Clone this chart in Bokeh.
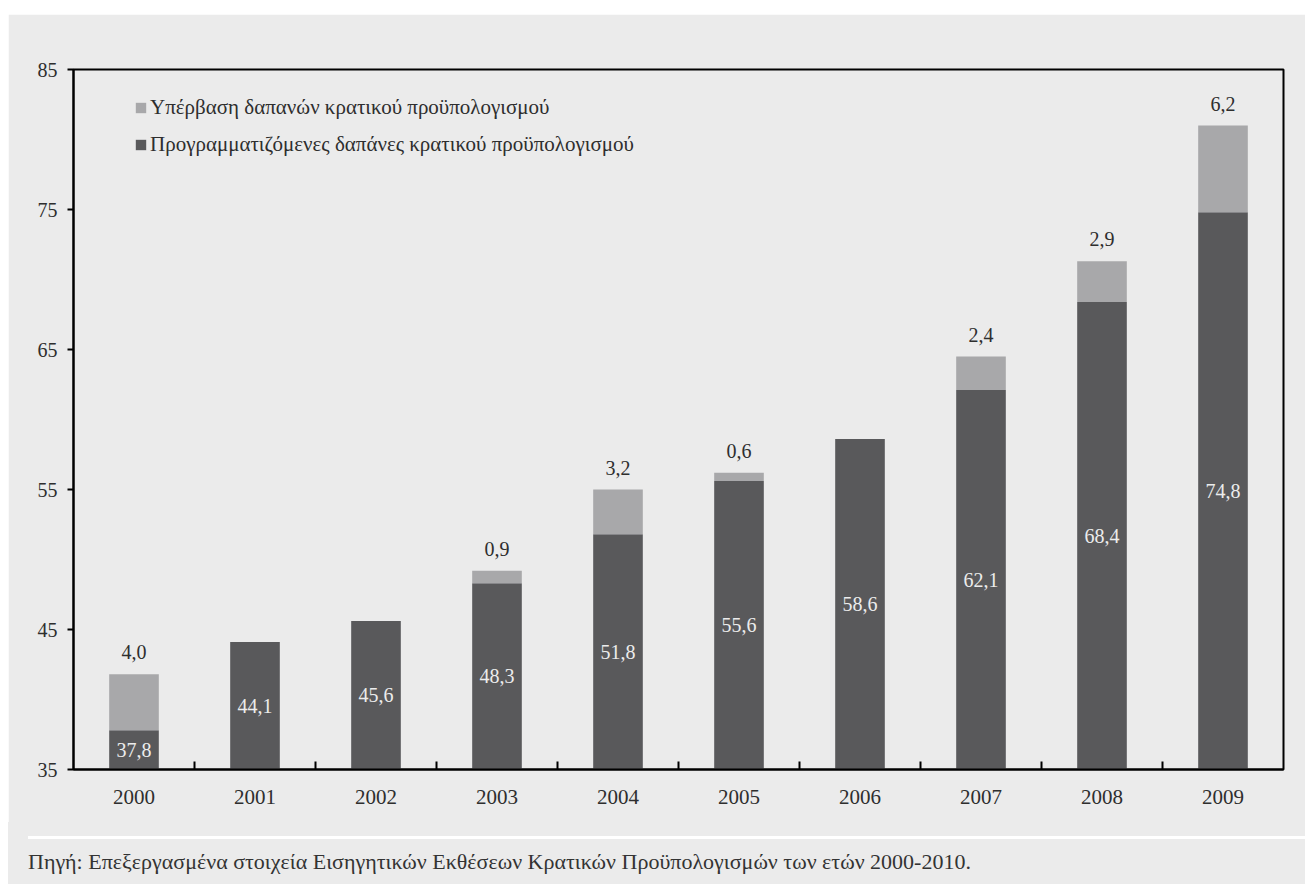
from bokeh.plotting import figure
from bokeh.layouts import column
from bokeh.models import (Range1d, FixedTicker, ColumnDataSource, LabelSet,
                          Legend, LegendItem, Div)
from bokeh.embed import file_html
from bokeh.resources import INLINE

# ---- data ----
years = ["2000", "2001", "2002", "2003", "2004", "2005", "2006", "2007", "2008", "2009"]
planned = [37.8, 44.1, 45.6, 48.3, 51.8, 55.6, 58.6, 62.1, 68.4, 74.8]
overrun = [4.0, 0.0, 0.0, 0.9, 3.2, 0.6, 0.0, 2.4, 2.9, 6.2]
y_ticks = [35, 45, 55, 65, 75, 85]
legend_over = "Υπέρβαση δαπανών κρατικού προϋπολογισμού"
legend_plan = "Προγραμματιζόμενες δαπάνες κρατικού προϋπολογισμού"
source_text = "Πηγή: Επεξεργασμένα στοιχεία Εισηγητικών Εκθέσεων Κρατικών Προϋπολογισμών των ετών 2000-2010."

FONT = "Liberation Serif"
BG = "#ebebeb"
DARK = "#59595b"
LIGHT = "#a8a8aa"
TXT = "#2e2e2e"
Y0, Y1 = y_ticks[0], y_ticks[-1]

def fmt(v):
    return f"{v:.1f}".replace(".", ",")

centers = [i + 0.5 for i in range(len(years))]
bounds = [i for i in range(1, len(years))]

p = figure(output_backend="svg", toolbar_location=None,
           frame_width=1210, frame_height=700,
           min_border_left=65, min_border_top=55, min_border_right=22, min_border_bottom=53,
           x_range=Range1d(0, len(years)), y_range=Range1d(Y0, Y1),
           background_fill_color=BG, border_fill_color=BG,
           margin=(14, 0, 0, 8))
p.grid.visible = False
p.outline_line_color = "black"
p.outline_line_width = 2

base_src = ColumnDataSource(dict(x=centers, top=planned, bottom=[Y0] * len(years),
                                 mid=[(Y0 + v) / 2 for v in planned],
                                 lab=[fmt(v) for v in planned]))
ov_idx = [i for i, o in enumerate(overrun) if o > 0]
ov_src = ColumnDataSource(dict(x=[centers[i] for i in ov_idx],
                               bottom=[planned[i] for i in ov_idx],
                               top=[planned[i] + overrun[i] for i in ov_idx],
                               lab=[fmt(overrun[i]) for i in ov_idx]))

r_plan = p.vbar(x="x", top="top", bottom="bottom", width=0.41, source=base_src,
                fill_color=DARK, line_color=None)
r_over = p.vbar(x="x", top="top", bottom="bottom", width=0.41, source=ov_src,
                fill_color=LIGHT, line_color=None)

p.add_layout(LabelSet(x="x", y="mid", text="lab", source=base_src, text_align="center",
                      text_baseline="middle", text_color="#ececec", text_font=FONT,
                      text_font_size="20px"))
p.add_layout(LabelSet(x="x", y="top", text="lab", source=ov_src, text_align="center",
                      text_baseline="middle", text_color=TXT, text_font=FONT,
                      text_font_size="20px", y_offset=22))

# axes
ya = p.yaxis[0]
ya.ticker = FixedTicker(ticks=y_ticks)
ya.axis_line_width = 2
ya.axis_line_color = "black"
ya.major_tick_in = 0
ya.major_tick_out = 6
ya.major_tick_line_width = 2
ya.minor_tick_line_color = None
ya.major_label_standoff = 10
ya.major_label_text_font = FONT
ya.major_label_text_font_size = "20px"
ya.major_label_text_color = TXT

xa = p.xaxis[0]
xa.ticker = FixedTicker(ticks=centers, minor_ticks=bounds)
xa.major_label_overrides = {c: y for c, y in zip(centers, years)}
xa.axis_line_width = 2
xa.axis_line_color = "black"
xa.major_tick_in = 0
xa.major_tick_out = 0
xa.minor_tick_in = 8
xa.minor_tick_out = 0
xa.minor_tick_line_width = 2
xa.minor_tick_line_color = "black"
xa.major_label_standoff = 20
xa.major_label_text_font = FONT
xa.major_label_text_font_size = "21px"
xa.major_label_text_color = TXT

legend = Legend(items=[LegendItem(label=legend_over, renderers=[r_over]),
                       LegendItem(label=legend_plan, renderers=[r_plan])],
                location=(61, 612), margin=0, padding=0, spacing=12,
                glyph_width=13, glyph_height=13, label_height=24, label_standoff=3,
                label_text_font=FONT, label_text_font_size="21px",
                label_text_color=TXT,
                background_fill_alpha=0, border_line_color=None)
p.add_layout(legend)

note = Div(text=("<div style=\"margin:14px 0 0 20px; width:1277px; border-top:3px solid #ffffff; "
                 "padding-top:7px; font-family:'Liberation Serif'; font-size:22px; "
                 "color:#333333; white-space:nowrap;\">" + source_text + "</div>"),
           width=1297, height=62, margin=(0, 0, 0, 8),
           styles={"background-color": BG})

layout = column(p, note, spacing=0)
open("out.html", "w").write(file_html(layout, INLINE))
